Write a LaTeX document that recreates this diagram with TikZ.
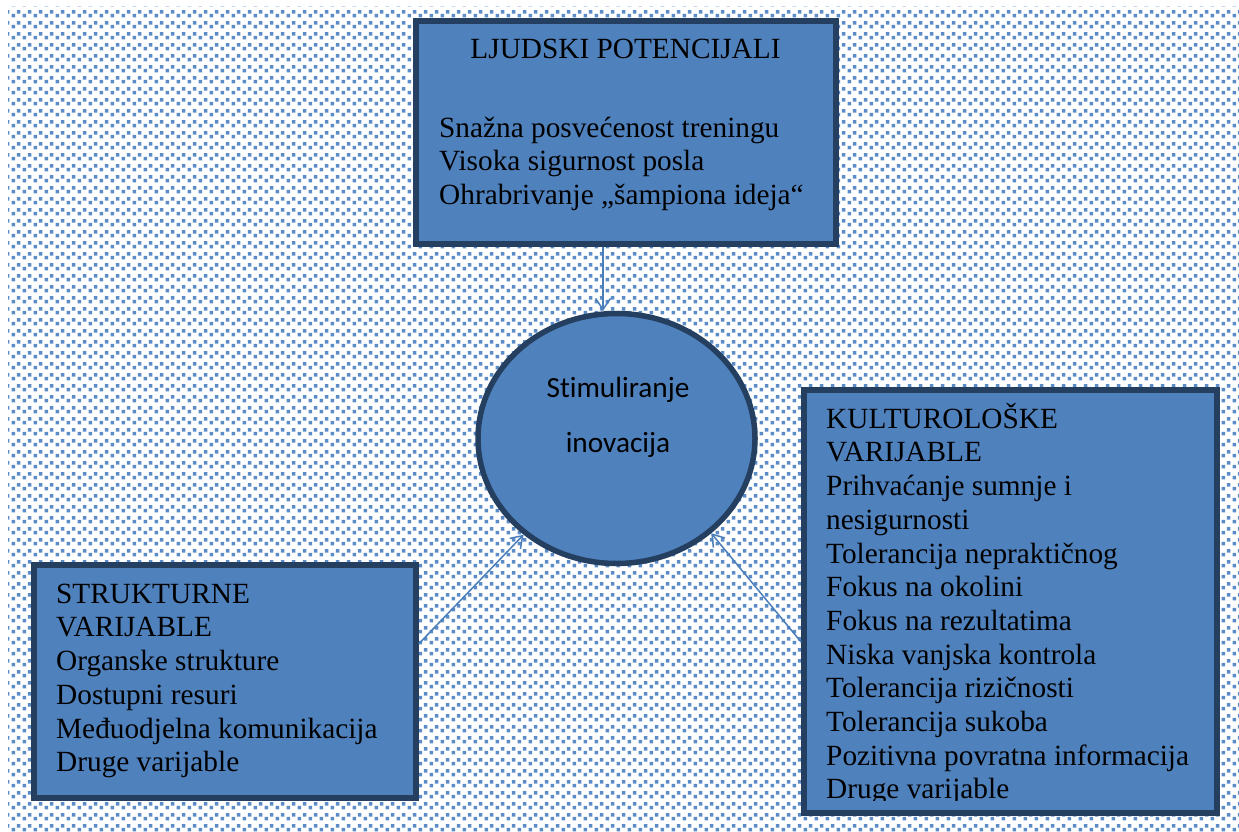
\documentclass[tikz,border=0pt]{standalone}
\usepackage{fontspec}
\setmainfont{Liberation Serif}
\newfontfamily\calib[Ligatures={NoCommon}]{Carlito}
\usetikzlibrary{shapes.geometric,arrows.meta,patterns}
\definecolor{boxfill}{HTML}{4F81BD}
\definecolor{boxline}{HTML}{243F60}
\definecolor{arrowc}{HTML}{4A7EBB}
\definecolor{dotc}{HTML}{5C8CC8}
\pgfdeclarepatternformonly{confetti}{\pgfqpoint{0pt}{0pt}}{\pgfqpoint{10.67pt}{10.67pt}}{\pgfqpoint{10.67pt}{10.67pt}}{%
  \pgfpathrectangle{\pgfqpoint{0.6pt}{0.6pt}}{\pgfqpoint{3.6pt}{3.6pt}}%
  \pgfpathrectangle{\pgfqpoint{6pt}{4.6pt}}{\pgfqpoint{3.6pt}{3.6pt}}%
  \pgfusepath{fill}}
\newcommand\tstrut{\rule{0pt}{28pt}}
\tikzset{
  box/.style={draw=boxline, fill=boxfill, line width=5.5pt, rectangle, inner sep=0pt},
  body/.style={font=\fontsize{29.3}{33.7}\selectfont, align=left, anchor=north west, inner sep=0pt},
  link/.style={draw=arrowc, line width=1.5pt, -{Straight Barb[length=11pt,width=15pt]}},
}
\begin{document}
\begin{tikzpicture}[x=1pt,y=-1pt]
\useasboundingbox (0,0) rectangle (1239,832);
\fill[white] (0,0) rectangle (1239,832);
\fill[pattern=confetti, pattern color=dotc] (8,7) rectangle (1239,832);

\node[box, minimum width=420pt, minimum height=223pt] (tbox) at (626,132.5) {};
\node[box, minimum width=382pt, minimum height=233pt] (lbox) at (225,681.5) {};
\node[box, minimum width=413pt, minimum height=423pt] (rbox) at (1010.5,601.5) {};
\node[ellipse, draw=boxline, fill=boxfill, line width=5.5pt, inner sep=0pt,
      minimum width=277pt, minimum height=250pt] (circ) at (616.5,438.5) {};

\node[font=\fontsize{29.3}{33.7}\selectfont, anchor=base, inner sep=0pt] (ttitle) at (625.5,59) {LJUDSKI POTENCIJALI};
\node[body] (tbody) at (439,109) {\tstrut Snažna posvećenost treningu\\Visoka sigurnost posla\\Ohrabrivanje „šampiona ideja“};
\node[body] (lbody) at (56,575) {\tstrut STRUKTURNE\\VARIJABLE\\Organske strukture\\Dostupni resuri\\Međuodjelna komunikacija\\Druge varijable};
\begin{scope}
\clip (804,390) rectangle (1217,800);
\node[body] (rbody) at (826,400) {\tstrut KULTUROLOŠKE\\VARIJABLE\\Prihvaćanje sumnje i\\nesigurnosti\\Tolerancija nepraktičnog\\Fokus na okolini\\Fokus na rezultatima\\Niska vanjska kontrola\\Tolerancija rizičnosti\\Tolerancija sukoba\\Pozitivna povratna informacija\\Druge varijable};
\end{scope}
\node[font=\calib\fontsize{29.3}{55}\selectfont, align=center, anchor=north, inner sep=0pt] (ctext) at (618,369) {\tstrut Stimuliranje\\inovacija};

\draw[link] ([xshift=-23pt]tbox.south) -- ([xshift=-13.5pt]circ.north);
\draw[link] (lbox.11.7) -- (circ.226.6);
\draw[link] (rbox.191.1) -- (circ.315);
\end{tikzpicture}
\end{document}
